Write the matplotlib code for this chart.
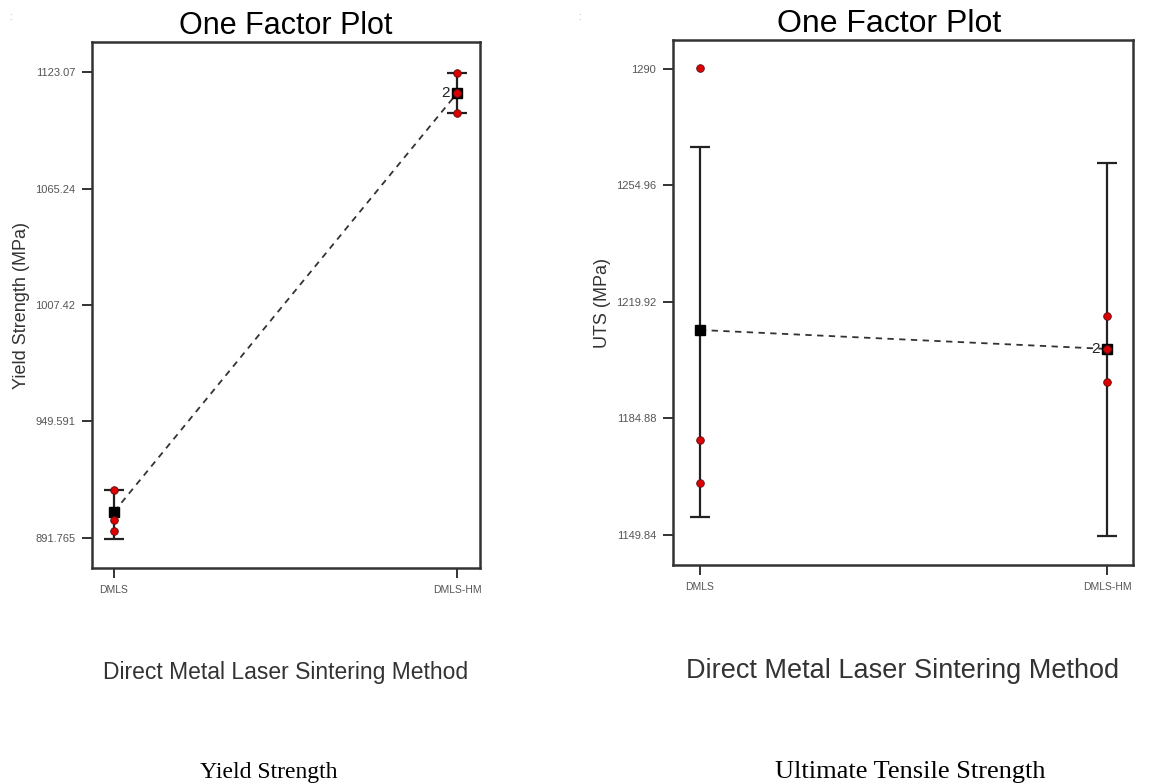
import numpy as np
import matplotlib
matplotlib.use("Agg")
import matplotlib.pyplot as plt

plt.rcParams['font.family'] = ['Liberation Sans', 'DejaVu Sans']

groups = ["DMLS", "DMLS-HM"]

# yield strength (MPa)
ys_points = [[915.7, 900.7, 895.3], [1122.6, 1112.6, 1112.6, 1102.6]]
ys_means = [904.7, 1112.6]
ys_low = [891.3, 1102.6]
ys_high = [915.7, 1122.6]
ys_ticks = [891.765, 949.591, 1007.42, 1065.24, 1123.07]
ys_ticklabels = ["891.765", "949.591", "1007.42", "1065.24", "1123.07"]

# ultimate tensile strength (MPa)
uts_points = [[1290.3, 1178.4, 1165.5], [1215.7, 1205.8, 1205.8, 1195.9]]
uts_means = [1211.5, 1205.8]
uts_low = [1155.3, 1149.5]
uts_high = [1266.5, 1261.7]
uts_ticks = [1149.84, 1184.88, 1219.92, 1254.96, 1290]
uts_ticklabels = ["1149.84", "1184.88", "1219.92", "1254.96", "1290"]

fig = plt.figure(figsize=(11.52, 7.84), dpi=100)
ax1 = fig.add_axes([0.0799, 0.2755, 0.3368, 0.6709])
ax2 = fig.add_axes([0.5842, 0.2793, 0.3993, 0.6696])


def one_factor(ax, points, means, low, high, ticks, ticklabels, ylim, xlim,
               ylabel, ylab_x, title_size, title_x, xl_size, dup_value, dup_dx):
    x = np.arange(len(groups))
    means = np.array(means)
    err = [means - np.array(low), np.array(high) - means]
    ax.errorbar(x, means, yerr=err, fmt="none", ecolor="#222222",
                elinewidth=1.6, capsize=7, capthick=1.6, zorder=2)
    ax.plot(x, means, ls=(0, (3.5, 3)), color="#333333", lw=1.3, zorder=1)
    for i, pts in enumerate(points):
        ax.plot([x[i]] * len(pts), pts, "o", color="#dd0000", mec="#551111",
                mew=0.6, ms=5.5, zorder=4)
    ax.plot(x, means, "s", color="black", ms=6.5, zorder=3)
    # "2" marks two coinciding runs
    ax.text(x[1] - dup_dx, dup_value, "2", ha="right", va="center",
            fontsize=11, color="#222222")
    ax.set_xlim(*xlim)
    ax.set_ylim(*ylim)
    ax.set_xticks(x)
    ax.set_xticklabels(groups, fontsize=7.5, color="#555555")
    ax.set_yticks(ticks)
    ax.set_yticklabels(ticklabels, fontsize=8, color="#555555")
    ax.tick_params(direction="out", length=7, width=1.4, color="#333333", pad=5)
    for s in ax.spines.values():
        s.set_linewidth(1.8)
        s.set_color("#333333")
    ax.set_title("One Factor Plot", fontsize=title_size, pad=6, x=title_x)
    ax.set_ylabel(ylabel, fontsize=13, color="#333333")
    ax.yaxis.set_label_coords(ylab_x, 0.5)
    ax.set_xlabel("Direct Metal Laser Sintering Method", fontsize=xl_size,
                  color="#333333", labelpad=48)


one_factor(ax1, ys_points, ys_means, ys_low, ys_high, ys_ticks, ys_ticklabels,
           (876.8, 1138.0), (-0.064, 1.067), "Yield Strength (MPa)", -0.16,
           22, 0.5, 16.5, 1112.6, 0.02)
one_factor(ax2, uts_points, uts_means, uts_low, uts_high, uts_ticks, uts_ticklabels,
           (1140.8, 1298.7), (-0.066, 1.064), "UTS (MPa)", -0.135,
           23, 0.47, 19.5, 1205.8, 0.017)

fig.text(0.233, 0.008, "Yield Strength", family="Liberation Serif", fontsize=17,
         ha="center")
fig.text(0.79, 0.008, "Ultimate Tensile Strength", family="Liberation Serif",
         fontsize=19, ha="center")
fig.text(0.008, 0.975, ":", fontsize=7, color="#aaaaaa")
fig.text(0.502, 0.975, ":", fontsize=7, color="#aaaaaa")

fig.savefig("out.png", dpi=100)
